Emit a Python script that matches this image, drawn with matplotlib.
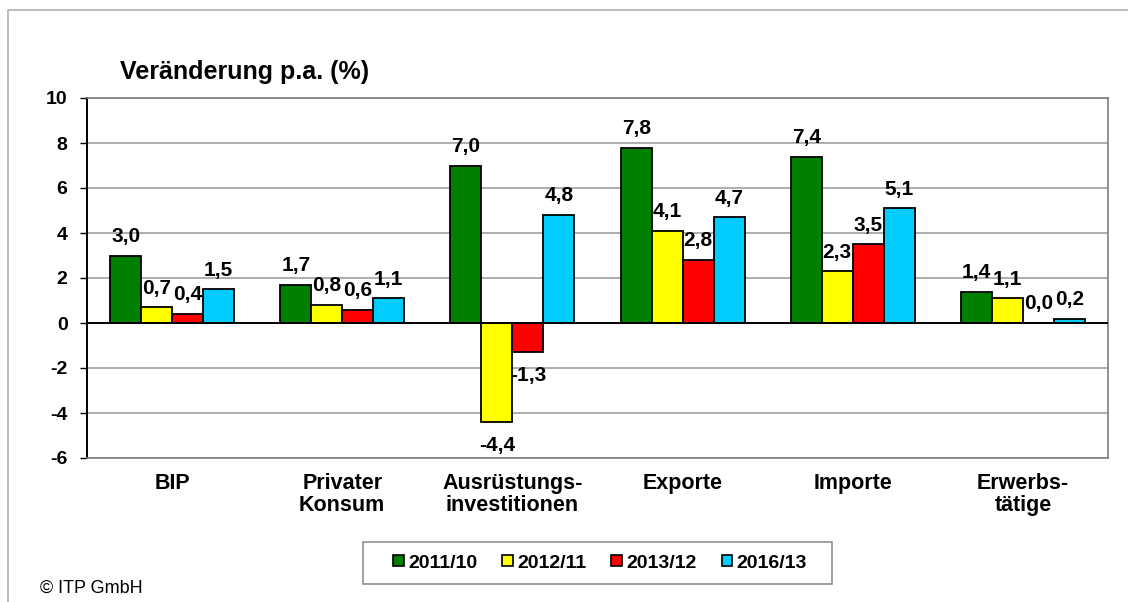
import numpy as np
import matplotlib.pyplot as plt
from matplotlib.patches import Rectangle

plt.rcParams['font.family'] = ['Liberation Sans', 'DejaVu Sans']

# data
categories = ['BIP', 'Privater\nKonsum', 'Ausrüstungs-\ninvestitionen',
              'Exporte', 'Importe', 'Erwerbs-\ntätige']
series = ['2011/10', '2012/11', '2013/12', '2016/13']
v_2011 = [3.0, 1.7, 7.0, 7.8, 7.4, 1.4]
v_2012 = [0.7, 0.8, -4.4, 4.1, 2.3, 1.1]
v_2013 = [0.4, 0.6, -1.3, 2.8, 3.5, 0.0]
v_2016 = [1.5, 1.1, 4.8, 4.7, 5.1, 0.2]
values = [v_2011, v_2012, v_2013, v_2016]
colors = ['#008000', '#FFFF00', '#FF0000', '#00CCFF']

W, H = 1128, 602
fig = plt.figure(figsize=(W / 100, H / 100), dpi=100)
ax = fig.add_axes([87 / W, 1 - 458 / H, (1108 - 87) / W, 360 / H])

# outer frame
fig.patches.append(Rectangle((8 / W, -0.05), 1.2, 1 - 10 / H + 0.05,
                             transform=fig.transFigure, fill=False,
                             edgecolor='#B0B0B0', lw=1.2))

x = np.arange(len(categories)) + 0.5
w = 0.182
for i, (vals, col, name) in enumerate(zip(values, colors, series)):
    xs = x + (i - 1.5) * w
    ax.bar(xs, vals, w, color=col, edgecolor='black', lw=1.3,
           label=name, zorder=3)
    for xb, v in zip(xs, vals):
        txt = f'{v:.1f}'.replace('.', ',')
        if v >= 0:
            ax.annotate(txt, (xb, v), xytext=(0, 7), textcoords='offset points',
                        ha='center', va='bottom', fontsize=15, fontweight='bold')
        else:
            ax.annotate(txt, (xb, v), xytext=(0, -10), textcoords='offset points',
                        ha='center', va='top', fontsize=15, fontweight='bold')

ax.set_xlim(0, 6)
ax.set_ylim(-6, 10)
ax.set_yticks(range(-6, 11, 2))
ax.set_yticklabels([str(t) for t in range(-6, 11, 2)], fontsize=14, fontweight='bold')
ax.set_xticks(x)
ax.set_xticklabels(categories, fontsize=15.5, fontweight='bold', linespacing=1.05)
ax.tick_params(axis='x', length=0, pad=11)
ax.tick_params(axis='y', length=5, width=1, direction='out', pad=9)
ax.grid(axis='y', color='#A0A0A0', lw=1.2, zorder=0)
ax.axhline(0, color='black', lw=1.4, zorder=4)
for s in ['top', 'right', 'bottom']:
    ax.spines[s].set_color('#808080')
    ax.spines[s].set_linewidth(1.2)
ax.spines['left'].set_color('black')
ax.spines['left'].set_linewidth(1.4)

fig.text(120 / W, 1 - 79 / H, 'Veränderung p.a. (%)', fontsize=18,
         fontweight='bold', ha='left', va='baseline')

# legend box drawn separately, entries centred inside it
fig.patches.append(Rectangle((363 / W, 1 - 584 / H), (832 - 363) / W, 42 / H,
                             transform=fig.transFigure, fill=False,
                             edgecolor='#909090', lw=1.2))
leg = fig.legend(loc='center', bbox_to_anchor=(600 / W, 1 - 563 / H),
                 ncol=4, frameon=False,
                 handlelength=0.55, handleheight=0.55, handletextpad=0.2,
                 columnspacing=1.3,
                 prop={'size': 14, 'weight': 'bold'})
for h in leg.legend_handles:
    h.set_linewidth(1.2)

fig.text(40 / W, 1 - 593 / H, '© ITP GmbH', fontsize=13, ha='left',
         va='baseline')

fig.savefig('out.png', dpi=100)
